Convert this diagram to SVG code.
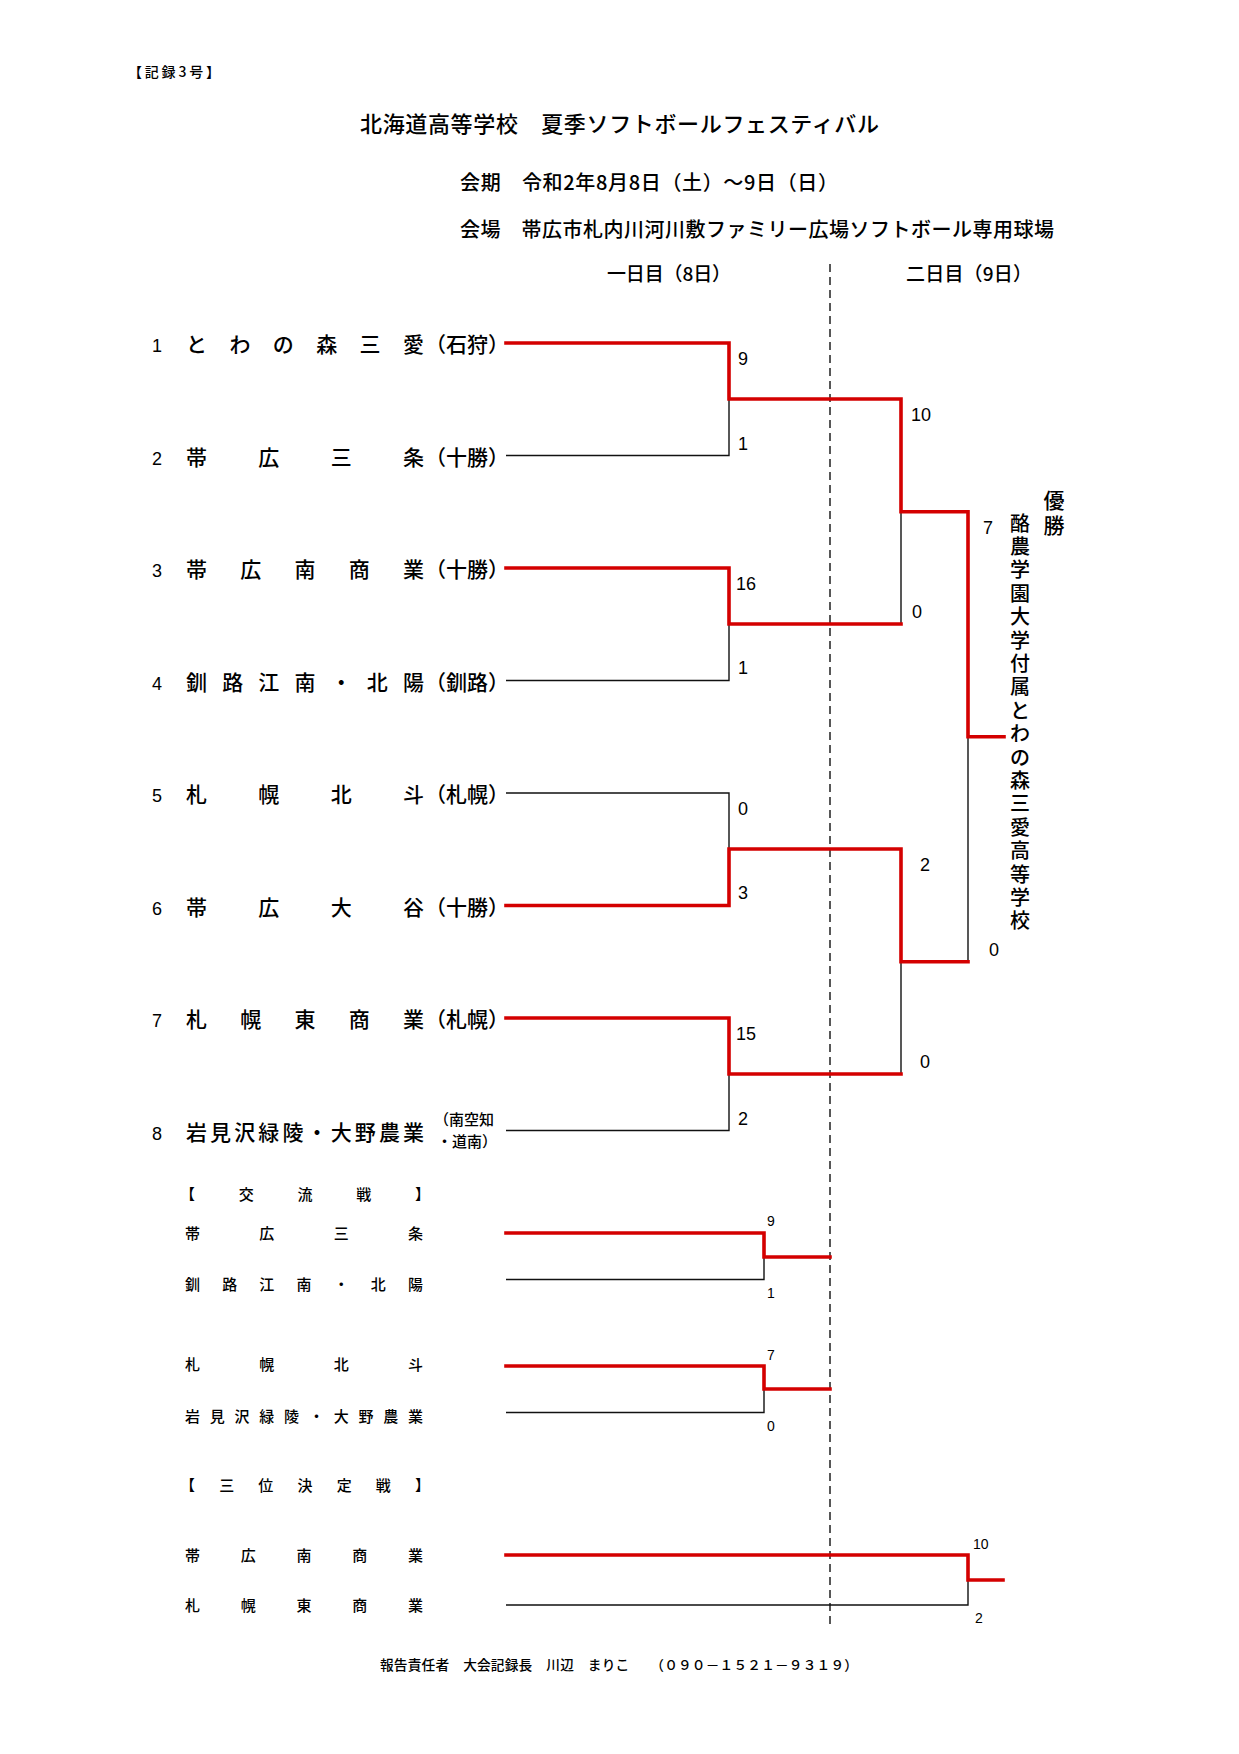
<svg xmlns="http://www.w3.org/2000/svg" width="1239" height="1754" viewBox="0 0 1239 1754">
<style>
text{font-family:"Noto Sans CJK JP","Noto Sans",sans-serif;fill:#000;font-weight:500}
.hdr{font-size:20px}
.nm{font-size:21px}
.no{font-size:18px;font-family:"Liberation Sans","Noto Sans CJK JP",sans-serif}
.sc{font-size:18px;font-family:"Liberation Sans","Noto Sans CJK JP",sans-serif}
.ssc{font-size:14px;font-family:"Liberation Sans","Noto Sans CJK JP",sans-serif}
.sm{font-size:15px}
.red{fill:none;stroke:#d40000;stroke-width:3.6;stroke-linejoin:miter;stroke-linecap:square}
.blk{fill:none;stroke:#111;stroke-width:1.4}
.dash{fill:none;stroke:#111;stroke-width:1.4;stroke-dasharray:8 5}
</style>
<rect width="1239" height="1754" fill="#fff"/>
<g id="header">
<text x="128" y="77" font-size="14" font-weight="bold" textLength="92" lengthAdjust="spacing">【記録3号】</text>
<text x="360" y="132" font-size="22" textLength="519" lengthAdjust="spacing">北海道高等学校　夏季ソフトボールフェスティバル</text>
<text class="hdr" x="460" y="190" textLength="378" lengthAdjust="spacing">会期　令和2年8月8日（土）～9日（日）</text>
<text class="hdr" x="460" y="237" textLength="594" lengthAdjust="spacing">会場　帯広市札内川河川敷ファミリー広場ソフトボール専用球場</text>
<text x="607" y="281" font-size="19" textLength="124" lengthAdjust="spacing">一日目（8日）</text>
<text x="906" y="281" font-size="19" textLength="126" lengthAdjust="spacing">二日目（9日）</text>
</g>
<g id="connectors">
<line class="dash" x1="830" y1="264" x2="830" y2="1628"/>
<polyline class="blk" points="506,455.5 729,455.5 729,399"/>
<polyline class="blk" points="506,680.5 729,680.5 729,624"/>
<polyline class="blk" points="506,793 729,793 729,849"/>
<polyline class="blk" points="506,1130.5 729,1130.5 729,1074"/>
<polyline class="blk" points="901,511.75 901,624"/>
<polyline class="blk" points="901,961.75 901,1074"/>
<polyline class="blk" points="968,736.75 968,961.75"/>
<polyline class="blk" points="506,1279.5 764,1279.5 764,1257"/>
<polyline class="blk" points="506,1412.5 764,1412.5 764,1389"/>
<polyline class="blk" points="506,1605 968,1605 968,1580"/>
<polyline class="red" points="506,343 729,343 729,399 901,399 901,511.75 968,511.75 968,736.75 1004,736.75"/>
<polyline class="red" points="506,568 729,568 729,624 901,624"/>
<polyline class="red" points="506,905.5 729,905.5 729,849 901,849 901,961.75 968,961.75"/>
<polyline class="red" points="506,1018 729,1018 729,1074 901,1074"/>
<polyline class="red" points="506,1233 764,1233 764,1257 830,1257"/>
<polyline class="red" points="506,1366 764,1366 764,1389 830,1389"/>
<polyline class="red" points="506,1555 968,1555 968,1580 1003,1580"/>
</g>
<g id="team1"><text class="no" x="152" y="352">1</text><text class="nm" x="186" y="352" textLength="238" lengthAdjust="spacing">とわの森三愛</text><text class="nm" x="425" y="352">（石狩）</text></g>
<g id="team2"><text class="no" x="152" y="464.5">2</text><text class="nm" x="186" y="464.5" textLength="238" lengthAdjust="spacing">帯広三条</text><text class="nm" x="425" y="464.5">（十勝）</text></g>
<g id="team3"><text class="no" x="152" y="577">3</text><text class="nm" x="186" y="577" textLength="238" lengthAdjust="spacing">帯広南商業</text><text class="nm" x="425" y="577">（十勝）</text></g>
<g id="team4"><text class="no" x="152" y="689.5">4</text><text class="nm" x="186" y="689.5" textLength="238" lengthAdjust="spacing">釧路江南・北陽</text><text class="nm" x="425" y="689.5">（釧路）</text></g>
<g id="team5"><text class="no" x="152" y="802">5</text><text class="nm" x="186" y="802" textLength="238" lengthAdjust="spacing">札幌北斗</text><text class="nm" x="425" y="802">（札幌）</text></g>
<g id="team6"><text class="no" x="152" y="914.5">6</text><text class="nm" x="186" y="914.5" textLength="238" lengthAdjust="spacing">帯広大谷</text><text class="nm" x="425" y="914.5">（十勝）</text></g>
<g id="team7"><text class="no" x="152" y="1027">7</text><text class="nm" x="186" y="1027" textLength="238" lengthAdjust="spacing">札幌東商業</text><text class="nm" x="425" y="1027">（札幌）</text></g>
<g id="team8"><text class="no" x="152" y="1139.5">8</text><text class="nm" x="186" y="1139.5" textLength="238" lengthAdjust="spacing">岩見沢緑陵・大野農業</text><text class="sm" x="434" y="1125">（南空知</text><text class="sm" x="437" y="1147">・道南）</text></g>
<g id="scores">
<text class="sc" x="738" y="364.5">9</text>
<text class="sc" x="738" y="449.5">1</text>
<text class="sc" x="736" y="589.5">16</text>
<text class="sc" x="738" y="674">1</text>
<text class="sc" x="738" y="814.5">0</text>
<text class="sc" x="738" y="899">3</text>
<text class="sc" x="736" y="1040">15</text>
<text class="sc" x="738" y="1124.5">2</text>
<text class="sc" x="911" y="420.5">10</text>
<text class="sc" x="912" y="618">0</text>
<text class="sc" x="920" y="871">2</text>
<text class="sc" x="920" y="1067.5">0</text>
<text class="sc" x="983" y="534">7</text>
<text class="sc" x="989" y="956">0</text>
</g>
<g id="champion">
<text font-size="21" text-anchor="middle" x="1054 1054" y="508 533">優勝</text>
<text font-size="20" text-anchor="middle" x="1020 1020 1020 1020 1020 1020 1020 1020 1020 1020 1020 1020 1020 1020 1020 1020 1020 1020" y="530.5 553.9 577.3 600.7 624.1 647.5 670.9 694.3 717.7 741.1 764.5 787.9 811.3 834.7 858.1 881.5 904.9 928.3">酪農学園大学付属とわの森三愛高等学校</text>
</g>
<g id="exchange">
<text class="sm" x="180" y="1200" textLength="250" lengthAdjust="spacing">【交流戦】</text>
<text class="sm" x="185" y="1238.5" textLength="238" lengthAdjust="spacing">帯広三条</text>
<text class="sm" x="185" y="1289.5" textLength="238" lengthAdjust="spacing">釧路江南・北陽</text>
<text class="sm" x="185" y="1369.5" textLength="238" lengthAdjust="spacing">札幌北斗</text>
<text class="sm" x="185" y="1422" textLength="238" lengthAdjust="spacing">岩見沢緑陵・大野農業</text>
<text class="ssc" x="767" y="1226">9</text>
<text class="ssc" x="767" y="1298">1</text>
<text class="ssc" x="767" y="1360">7</text>
<text class="ssc" x="767" y="1431">0</text>
</g>
<g id="third">
<text class="sm" x="180" y="1490.5" textLength="250" lengthAdjust="spacing">【三位決定戦】</text>
<text class="sm" x="185" y="1560.5" textLength="238" lengthAdjust="spacing">帯広南商業</text>
<text class="sm" x="185" y="1610.5" textLength="238" lengthAdjust="spacing">札幌東商業</text>
<text class="ssc" x="973" y="1549">10</text>
<text class="ssc" x="975" y="1623">2</text>
</g>
<g id="footer">
<text x="380" y="1670" font-size="13.7" textLength="478" lengthAdjust="spacing">報告責任者　大会記録長　川辺　まりこ　　（０９０－１５２１－９３１９）</text>
</g>
</svg>
